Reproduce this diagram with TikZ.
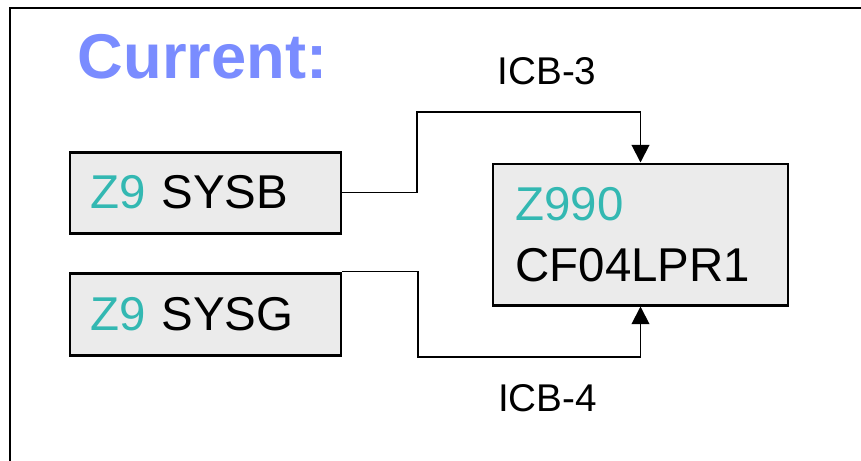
\documentclass[tikz,border=0pt]{standalone}
\usepackage{fontspec}
\setmainfont{Liberation Sans}
\usepackage{tikz}
\usetikzlibrary{arrows.meta,positioning}
\definecolor{zteal}{RGB}{51,184,178}
\definecolor{titleblue}{RGB}{122,140,255}
\definecolor{boxgray}{RGB}{235,235,235}

\begin{document}
\begin{tikzpicture}[
    >={Triangle[length=10pt,width=10pt]},
    sysbox/.style={
        rectangle,
        draw,
        line width=1.7pt,
        fill=boxgray,
        align=left,
        font=\fontsize{27}{35}\selectfont
    },
    lparbox/.style={sysbox, inner xsep=0.44cm, minimum width=5.9cm, minimum height=2.82cm, text width=5.0cm},
    lparsmall/.style={sysbox, inner xsep=0.40cm, minimum width=5.42cm, text width=4.6cm},
    title/.style={font=\fontsize{36}{44}\selectfont\bfseries, text=titleblue, inner sep=0pt},
    linklabel/.style={font=\fontsize{22}{26}\selectfont, inner sep=0pt},
    link/.style={->, line width=1.1pt}
]

% ---------------------------------------------------------------- Frame
\clip (0,0) rectangle (17.22,-9.2);
\draw[line width=1.1pt] (0.2,-0.16) rectangle (18,-10);

% ---------------------------------------------------------------- Title
\node[title] (current) at (4.05,-1.14) {Current:};

% ---------------------------------------------------------------- Blocks
\node[lparsmall, minimum height=1.62cm] (sysb) at (4.11,-3.85) {{\color{zteal}Z9} SYSB};
\node[lparsmall, minimum height=1.64cm] (sysg) at (4.11,-6.28) {{\color{zteal}Z9} SYSG};
\node[lparbox] (cf) at (12.81,-4.69) {{\color{zteal}Z990}\\CF04LPR1};

% ---------------------------------------------------------------- Links
\coordinate (bend3) at (8.34,-2.24);
\coordinate (bend4) at (8.36,-7.14);
\draw[link] (sysb.east) -| (bend3) -| (cf.north);
\draw[link] (sysg.north east) -| (bend4) -| (cf.south);

\node[linklabel] (icb3) at (10.94,-1.42) {ICB-3};
\node[linklabel] (icb4) at (10.95,-7.96) {ICB-4};

\end{tikzpicture}
\end{document}
